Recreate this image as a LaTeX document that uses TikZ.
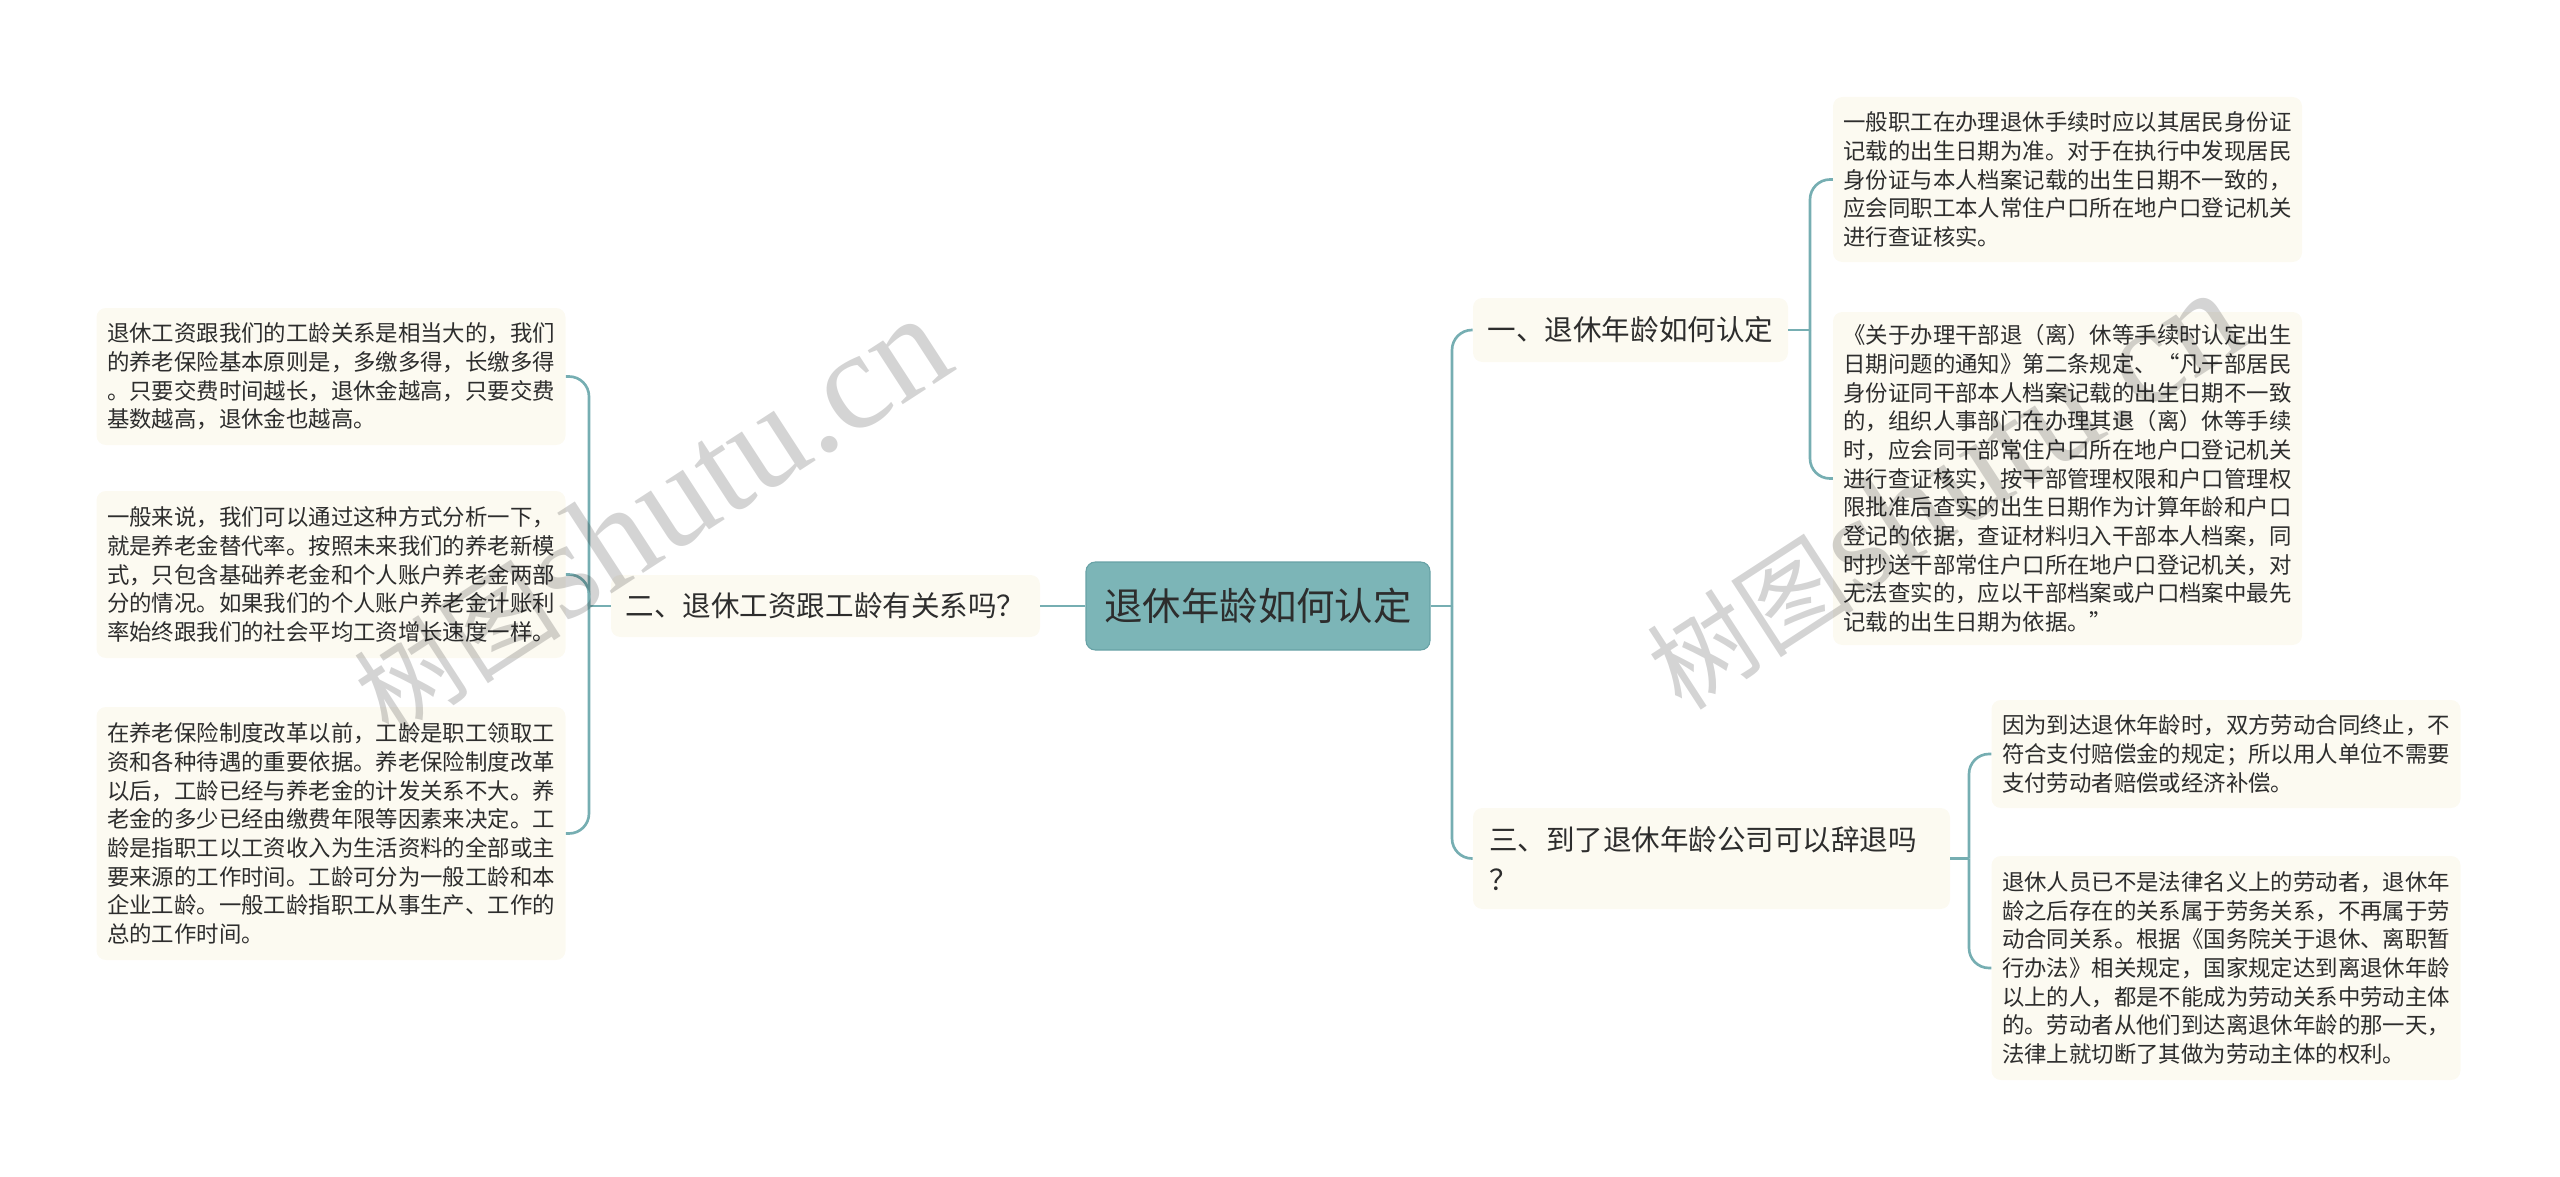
\documentclass[tikz,border=0pt]{standalone}
\usepackage{fontspec}
\setmainfont{Noto Sans CJK SC}
\newfontfamily\markfont{Liberation Serif}
\usepackage{tikz}
\definecolor{ink}{RGB}{45,45,45}
\definecolor{sage}{RGB}{124,181,183}
\definecolor{sagedark}{RGB}{104,162,166}
\definecolor{wire}{RGB}{118,174,178}
\definecolor{cream}{RGB}{252,250,241}
\definecolor{markgrey}{RGB}{212,212,212}

\begin{document}
\begin{tikzpicture}[
  x=0.75pt, y=-0.75pt,
  root/.style={rectangle, rounded corners=7pt, fill=sage, draw=sagedark,
               line width=0.8pt, text=ink, minimum width=258pt,
               minimum height=66pt, font=\fontsize{28.8}{34}\selectfont},
  branch/.style={rectangle, rounded corners=7pt, fill=cream, text=ink,
                 align=left, font=\fontsize{21.4}{30}\selectfont},
  leaf/.style={rectangle, rounded corners=7pt, fill=cream, text=ink,
               align=left, minimum width=351.75pt, inner ysep=9pt,
               font=\fontsize{16.8}{21.5}\selectfont},
  link/.style={draw=wire, line width=2pt, rounded corners=15pt},
  wmark/.style={text=markgrey, inner sep=0pt}]
  \useasboundingbox (0,0) rectangle (2560,1177);
  \node[root] (root) at (1258,606) {退休年龄如何认定};
  \node[branch, minimum width=236.25pt, minimum height=48pt] (b1) at (1630.5,330) {一、退休年龄如何认定};
  \node[branch, minimum width=321.75pt, minimum height=46.5pt] (b2) at (825.5,606) {二、退休工资跟工龄有关系吗？};
  \node[branch, text width=333.75pt, inner xsep=12pt, minimum height=75.75pt] (b3) at (1711.5,858.5) {三、到了退休年龄公司可以辞退吗\\？};
  \node[leaf, minimum height=123.75pt] (r1a) at (2067.5,179.5) {一般职工在办理退休手续时应以其居民身份证\\记载的出生日期为准。对于在执行中发现居民\\身份证与本人档案记载的出生日期不一致的，\\应会同职工本人常住户口所在地户口登记机关\\进行查证核实。};
  \node[leaf, minimum height=249.75pt] (r1b) at (2067.5,478.5) {《关于办理干部退（离）休等手续时认定出生\\日期问题的通知》第二条规定、“凡干部居民\\身份证同干部本人档案记载的出生日期不一致\\的，组织人事部门在办理其退（离）休等手续\\时，应会同干部常住户口所在地户口登记机关\\进行查证核实，按干部管理权限和户口管理权\\限批准后查实的出生日期作为计算年龄和户口\\登记的依据，查证材料归入干部本人档案，同\\时抄送干部常住户口所在地户口登记机关，对\\无法查实的，应以干部档案或户口档案中最先\\记载的出生日期为依据。”};
  \node[leaf, minimum height=81pt] (r3a) at (2226,754) {因为到达退休年龄时，双方劳动合同终止，不\\符合支付赔偿金的规定；所以用人单位不需要\\支付劳动者赔偿或经济补偿。};
  \node[leaf, minimum height=168pt] (r3b) at (2226,968) {退休人员已不是法律名义上的劳动者，退休年\\龄之后存在的关系属于劳务关系，不再属于劳\\动合同关系。根据《国务院关于退休、离职暂\\行办法》相关规定，国家规定达到离退休年龄\\以上的人，都是不能成为劳动关系中劳动主体\\的。劳动者从他们到达离退休年龄的那一天，\\法律上就切断了其做为劳动主体的权利。};
  \node[leaf, minimum height=102.75pt] (l1) at (331,376.5) {退休工资跟我们的工龄关系是相当大的，我们\\的养老保险基本原则是，多缴多得，长缴多得\\。只要交费时间越长，退休金越高，只要交费\\基数越高，退休金也越高。};
  \node[leaf, minimum height=125.25pt] (l2) at (331,574.5) {一般来说，我们可以通过这种方式分析一下，\\就是养老金替代率。按照未来我们的养老新模\\式，只包含基础养老金和个人账户养老金两部\\分的情况。如果我们的个人账户养老金计账利\\率始终跟我们的社会平均工资增长速度一样。};
  \node[leaf, minimum height=189.75pt] (l3) at (331,833.5) {在养老保险制度改革以前，工龄是职工领取工\\资和各种待遇的重要依据。养老保险制度改革\\以后，工龄已经与养老金的计发关系不大。养\\老金的多少已经由缴费年限等因素来决定。工\\龄是指职工以工资收入为生活资料的全部或主\\要来源的工作时间。工龄可分为一般工龄和本\\企业工龄。一般工龄指职工从事生产、工作的\\总的工作时间。};
  \coordinate (rj) at (1452,606);
  \coordinate (lj) at (589,606);
  \coordinate (j1) at (1810,330);
  \coordinate (j3) at (1969,858.5);
  \draw[link] (root.east) -- (rj);
  \draw[link] (rj) |- (b1.west);
  \draw[link] (rj) |- (b3.west);
  \draw[link] (root.west) -- (b2.east);
  \draw[link] (b2.west) -- (lj);
  \draw[link] (lj) |- (l1.east);
  \draw[link] (lj) |- (l2.east);
  \draw[link] (lj) |- (l3.east);
  \draw[link] (b1.east) -- (j1);
  \draw[link] (j1) |- (r1a.west);
  \draw[link] (j1) |- (r1b.west);
  \draw[link] (b3.east) -- (j3);
  \draw[link] (j3) |- (r3a.west);
  \draw[link] (j3) |- (r3b.west);
  \begin{scope}[blend mode=multiply]
    \node[wmark, rotate=33] (wm1) at (650,516) {{\fontsize{78}{78}\selectfont 树图}{\markfont\fontsize{105}{105}\selectfont shutu.cn}};
    \node[wmark, rotate=33] (wm2) at (1943,490) {{\fontsize{78}{78}\selectfont 树图}{\markfont\fontsize{105}{105}\selectfont shutu.cn}};
  \end{scope}
\end{tikzpicture}
\end{document}
